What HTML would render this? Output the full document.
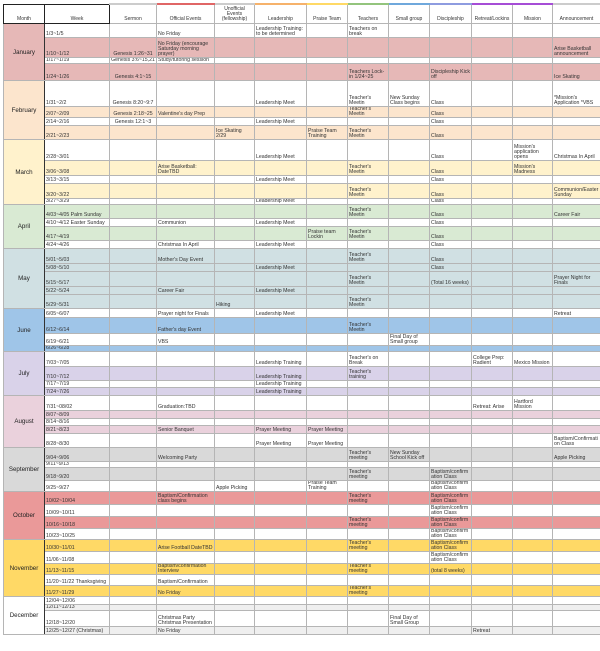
<!DOCTYPE html>
<html><head><meta charset="utf-8"><style>
body{margin:0;background:#fff;width:600px;height:651px;overflow:hidden;font-family:"Liberation Sans",sans-serif;}
table{position:absolute;left:3px;top:3px;border-collapse:collapse;table-layout:fixed;width:597px;}
td{border:1px solid #b5b5b5;font-size:5.2px;line-height:5px;color:#333;vertical-align:bottom;padding:0 1px;overflow:hidden;word-break:normal;overflow-wrap:anywhere;}
thead td{height:17px;text-align:center;vertical-align:bottom;padding-bottom:1px;border-top:2px solid #ccc;font-size:5px;}
thead td.m,thead td.w{border:1.5px solid #222;}
tbody tr.s td{background:var(--c);}
tbody tr:first-child td{border-top:1px solid #333;}
td.mo{background:var(--c)!important;text-align:center;vertical-align:middle;font-size:6.2px;color:#222;border-right:1px solid #333;}
td.c{text-align:center;}
</style></head><body>
<table>
<colgroup><col style="width:41px"><col style="width:65px"><col style="width:47px"><col style="width:58px"><col style="width:40px"><col style="width:52px"><col style="width:41px"><col style="width:41px"><col style="width:41px"><col style="width:42px"><col style="width:41px"><col style="width:40px"><col style="width:48px"></colgroup>
<thead><tr><td class="m">Month</td><td class="w">Week</td><td>Sermon</td><td style="border-top-color:#e06666">Official Events</td><td>Unofficial Events (fellowship)</td><td style="border-top-color:#f6b26b">Leadership</td><td style="border-top-color:#ffd966">Praise Team</td><td style="border-top-color:#93c47d">Teachers</td><td style="border-top-color:#6fa8dc">Small group</td><td style="border-top-color:#8e9ce0">Discipleship</td><td style="border-top-color:#a64dd6">Retreat/Lockins</td><td style="border-top-color:#a64dd6">Mission</td><td>Announcement</td></tr></thead>

<tbody style="--c:#e6b8b7">
<tr style="height:14px"><td class="mo" rowspan="4">January</td><td>1/3~1/5</td><td></td><td>No Friday</td><td></td><td>Leadership Training: to be determined</td><td></td><td>Teachers on break</td><td></td><td></td><td></td><td></td><td></td></tr>
<tr class="s" style="height:20px"><td>1/10~1/12</td><td class="c">Genesis 1:26~31</td><td>No Friday (encourage Saturday morning prayer)</td><td></td><td></td><td></td><td></td><td></td><td></td><td></td><td></td><td>Arise Basketball announcement</td></tr>
<tr style="height:6px"><td>1/17~1/19</td><td class="c">Genesis 3:6~15,21</td><td>Study/tutoring session</td><td></td><td></td><td></td><td></td><td></td><td></td><td></td><td></td><td></td></tr>
<tr class="s" style="height:17px"><td>1/24~1/26</td><td class="c">Genesis 4:1~15</td><td></td><td></td><td></td><td></td><td>Teachers Lock-in 1/24~25</td><td></td><td>Discipleship Kick off</td><td></td><td></td><td>Ice Skating</td></tr>
</tbody>

<tbody style="--c:#fce5cd">
<tr style="height:26px"><td class="mo" rowspan="4">February</td><td>1/31~2/2</td><td class="c">Genesis 8:20~9:7</td><td></td><td></td><td>Leadership Meet</td><td></td><td>Teacher's Meetin</td><td>New Sunday Class begins</td><td>Class</td><td></td><td></td><td>*Mission's Application *VBS</td></tr>
<tr class="s" style="height:7px"><td>2/07~2/09</td><td class="c">Genesis 2:18~25</td><td>Valentine's day Prep</td><td></td><td></td><td></td><td>Teacher's Meetin</td><td></td><td>Class</td><td></td><td></td><td></td></tr>
<tr style="height:8px"><td>2/14~2/16</td><td class="c">Genesis 12:1~3</td><td></td><td></td><td>Leadership Meet</td><td></td><td></td><td></td><td>Class</td><td></td><td></td><td></td></tr>
<tr class="s" style="height:14px"><td>2/21~2/23</td><td></td><td></td><td>Ice Skating 2/29</td><td></td><td>Praise Team Training</td><td>Teacher's Meetin</td><td></td><td>Class</td><td></td><td></td><td></td></tr>
</tbody>

<tbody style="--c:#fff2cc">
<tr style="height:21px"><td class="mo" rowspan="5">March</td><td>2/28~3/01</td><td></td><td></td><td></td><td>Leadership Meet</td><td></td><td></td><td></td><td>Class</td><td></td><td>Mission's application opens</td><td>Christmas In April</td></tr>
<tr class="s" style="height:15px"><td>3/06~3/08</td><td></td><td>Arise Basketball: DateTBD</td><td></td><td></td><td></td><td>Teacher's Meetin</td><td></td><td>Class</td><td></td><td>Mission's Madness</td><td></td></tr>
<tr style="height:8px"><td>3/13~3/15</td><td></td><td></td><td></td><td>Leadership Meet</td><td></td><td></td><td></td><td>Class</td><td></td><td></td><td></td></tr>
<tr class="s" style="height:15px"><td>3/20~3/22</td><td></td><td></td><td></td><td></td><td></td><td>Teacher's Meetin</td><td></td><td>Class</td><td></td><td></td><td>Communion/Easter Sunday</td></tr>
<tr style="height:6px"><td>3/27~3/29</td><td></td><td></td><td></td><td>Leadership Meet</td><td></td><td></td><td></td><td>Class</td><td></td><td></td><td></td></tr>
</tbody>

<tbody style="--c:#d9ead3">
<tr class="s" style="height:14px"><td class="mo" rowspan="4">April</td><td>4/03~4/05 Palm Sunday</td><td></td><td></td><td></td><td></td><td></td><td>Teacher's Meetin</td><td></td><td>Class</td><td></td><td></td><td>Career Fair</td></tr>
<tr style="height:8px"><td>4/10~4/12 Easter Sunday</td><td></td><td>Communion</td><td></td><td>Leadership Meet</td><td></td><td></td><td></td><td>Class</td><td></td><td></td><td></td></tr>
<tr class="s" style="height:14px"><td>4/17~4/19</td><td></td><td></td><td></td><td></td><td>Praise team Lockin</td><td>Teacher's Meetin</td><td></td><td>Class</td><td></td><td></td><td></td></tr>
<tr style="height:8px"><td>4/24~4/26</td><td></td><td>Christmas In April</td><td></td><td>Leadership Meet</td><td></td><td></td><td></td><td>Class</td><td></td><td></td><td></td></tr>
</tbody>

<tbody style="--c:#d0e0e3">
<tr class="s" style="height:15px"><td class="mo" rowspan="5">May</td><td>5/01~5/03</td><td></td><td>Mother's Day Event</td><td></td><td></td><td></td><td>Teacher's Meetin</td><td></td><td>Class</td><td></td><td></td><td></td></tr>
<tr class="s" style="height:8px"><td>5/08~5/10</td><td></td><td></td><td></td><td>Leadership Meet</td><td></td><td></td><td></td><td>Class</td><td></td><td></td><td></td></tr>
<tr class="s" style="height:15px"><td>5/15~5/17</td><td></td><td></td><td></td><td></td><td></td><td>Teacher's Meetin</td><td></td><td>(Total 16 weeks)</td><td></td><td></td><td>Prayer Night for Finals</td></tr>
<tr class="s" style="height:8px"><td>5/22~5/24</td><td></td><td>Career Fair</td><td></td><td>Leadership Meet</td><td></td><td></td><td></td><td></td><td></td><td></td><td></td></tr>
<tr class="s" style="height:14px"><td>5/29~5/31</td><td></td><td></td><td>Hiking</td><td></td><td></td><td>Teacher's Meetin</td><td></td><td></td><td></td><td></td><td></td></tr>
</tbody>

<tbody style="--c:#9fc5e8">
<tr style="height:9px"><td class="mo" rowspan="4">June</td><td>6/05~6/07</td><td></td><td>Prayer night for Finals</td><td></td><td>Leadership Meet</td><td></td><td></td><td></td><td></td><td></td><td></td><td>Retreat</td></tr>
<tr class="s" style="height:16px"><td>6/12~6/14</td><td></td><td>Father's day Event</td><td></td><td></td><td></td><td>Teacher's Meetin</td><td></td><td></td><td></td><td></td><td></td></tr>
<tr style="height:12px"><td>6/19~6/21</td><td></td><td>VBS</td><td></td><td></td><td></td><td></td><td>Final Day of Small group</td><td></td><td></td><td></td><td></td></tr>
<tr class="s" style="height:6px"><td>6/26~6/28</td><td></td><td></td><td></td><td></td><td></td><td></td><td></td><td></td><td></td><td></td><td></td></tr>
</tbody>

<tbody style="--c:#d9d2e9">
<tr style="height:15px"><td class="mo" rowspan="4">July</td><td>7/03~7/05</td><td></td><td></td><td></td><td>Leadership Training</td><td></td><td>Teacher's on Break</td><td></td><td></td><td>College Prep: Radient</td><td>Mexico Mission</td><td></td></tr>
<tr class="s" style="height:14px"><td>7/10~7/12</td><td></td><td></td><td></td><td>Leadership Training</td><td></td><td>Teacher's training</td><td></td><td></td><td></td><td></td><td></td></tr>
<tr style="height:7px"><td>7/17~7/19</td><td></td><td></td><td></td><td>Leadership Training</td><td></td><td></td><td></td><td></td><td></td><td></td><td></td></tr>
<tr class="s" style="height:8px"><td>7/24~7/26</td><td></td><td></td><td></td><td>Leadership Training</td><td></td><td></td><td></td><td></td><td></td><td></td><td></td></tr>
</tbody>

<tbody style="--c:#ead1dc">
<tr style="height:15px"><td class="mo" rowspan="5">August</td><td>7/31~08/02</td><td></td><td>Graduation:TBD</td><td></td><td></td><td></td><td></td><td></td><td></td><td>Retreat: Arise</td><td>Hartford Mission</td><td></td></tr>
<tr class="s" style="height:8px"><td>8/07~8/09</td><td></td><td></td><td></td><td></td><td></td><td></td><td></td><td></td><td></td><td></td><td></td></tr>
<tr style="height:7px"><td>8/14~8/16</td><td></td><td></td><td></td><td></td><td></td><td></td><td></td><td></td><td></td><td></td><td></td></tr>
<tr class="s" style="height:8px"><td>8/21~8/23</td><td></td><td>Senior Banquet</td><td></td><td>Prayer Meeting</td><td>Prayer Meeting</td><td></td><td></td><td></td><td></td><td></td><td></td></tr>
<tr style="height:14px"><td>8/28~8/30</td><td></td><td></td><td></td><td>Prayer Meeting</td><td>Prayer Meeting</td><td></td><td></td><td></td><td></td><td></td><td>Baptism/Confirmation Class</td></tr>
</tbody>

<tbody style="--c:#d9d9d9">
<tr class="s" style="height:14px"><td class="mo" rowspan="4">September</td><td>9/04~9/06</td><td></td><td>Welcoming Party</td><td></td><td></td><td></td><td>Teacher's meeting</td><td>New Sunday School Kick off</td><td></td><td></td><td></td><td>Apple Picking</td></tr>
<tr style="height:6px"><td>9/11~9/13</td><td></td><td></td><td></td><td></td><td></td><td></td><td></td><td></td><td></td><td></td><td></td></tr>
<tr class="s" style="height:13px"><td>9/18~9/20</td><td></td><td></td><td></td><td></td><td></td><td>Teacher's meeting</td><td></td><td>Baptism/confirmation Class</td><td></td><td></td><td></td></tr>
<tr style="height:10px"><td>9/25~9/27</td><td></td><td></td><td>Apple Picking</td><td></td><td>Praise Team Training</td><td></td><td></td><td>Baptism/confirmation Class</td><td></td><td></td><td></td></tr>
</tbody>

<tbody style="--c:#ea9999">
<tr class="s" style="height:13px"><td class="mo" rowspan="4">October</td><td>10/02~10/04</td><td></td><td>Baptism/Confirmation class begins</td><td></td><td></td><td></td><td>Teacher's meeting</td><td></td><td>Baptism/confirmation Class</td><td></td><td></td><td></td></tr>
<tr style="height:12px"><td>10/09~10/11</td><td></td><td></td><td></td><td></td><td></td><td></td><td></td><td>Baptism/confirmation Class</td><td></td><td></td><td></td></tr>
<tr class="s" style="height:12px"><td>10/16~10/18</td><td></td><td></td><td></td><td></td><td></td><td>Teacher's meeting</td><td></td><td>Baptism/confirmation Class</td><td></td><td></td><td></td></tr>
<tr style="height:10px"><td>10/23~10/25</td><td></td><td></td><td></td><td></td><td></td><td></td><td></td><td>Baptism/confirmation Class</td><td></td><td></td><td></td></tr>
</tbody>

<tbody style="--c:#ffd966">
<tr class="s" style="height:12px"><td class="mo" rowspan="5">November</td><td>10/30~11/01</td><td></td><td>Arise Football DateTBD</td><td></td><td></td><td></td><td>Teacher's meeting</td><td></td><td>Baptism/confirmation Class</td><td></td><td></td><td></td></tr>
<tr style="height:12px"><td>11/06~11/08</td><td></td><td></td><td></td><td></td><td></td><td></td><td></td><td>Baptism/confirmation Class</td><td></td><td></td><td></td></tr>
<tr class="s" style="height:10px"><td>11/13~11/15</td><td></td><td>Baptism/confirmation Interview</td><td></td><td></td><td></td><td>Teacher's meeting</td><td></td><td>(total 8 weeks)</td><td></td><td></td><td></td></tr>
<tr style="height:11px"><td>11/20~11/22 Thanksgiving</td><td></td><td>Baptism/Confirmation</td><td></td><td></td><td></td><td></td><td></td><td></td><td></td><td></td><td></td></tr>
<tr class="s" style="height:11px"><td>11/27~11/29</td><td></td><td>No Friday</td><td></td><td></td><td></td><td>Teacher's meeting</td><td></td><td></td><td></td><td></td><td></td></tr>
</tbody>

<tbody style="--c:#efefef">
<tr style="height:8px"><td class="mo" rowspan="4" style="background:#fff!important">December</td><td>12/04~12/06</td><td></td><td></td><td></td><td></td><td></td><td></td><td></td><td></td><td></td><td></td><td></td></tr>
<tr class="s" style="height:6px"><td>12/11~12/13</td><td></td><td></td><td></td><td></td><td></td><td></td><td></td><td></td><td></td><td></td><td></td></tr>
<tr style="height:16px"><td>12/18~12/20</td><td></td><td>Christmas Party Christmas Presentation</td><td></td><td></td><td></td><td></td><td>Final Day of Small Group</td><td></td><td></td><td></td><td></td></tr>
<tr class="s" style="height:8px"><td>12/25~12/27 (Christmas)</td><td></td><td>No Friday</td><td></td><td></td><td></td><td></td><td></td><td></td><td>Retreat</td><td></td><td></td></tr>
</tbody>
</table>
</body></html>
